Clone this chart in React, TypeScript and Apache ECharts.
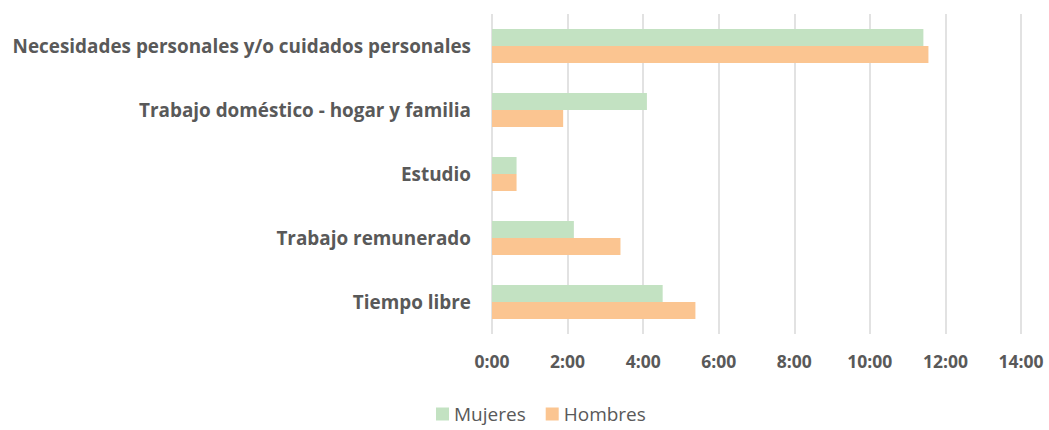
import React, { useEffect, useRef } from "react";
import * as echarts from "echarts";

const categories = [
  "Necesidades personales y/o cuidados personales",
  "Trabajo doméstico - hogar y familia",
  "Estudio",
  "Trabajo remunerado",
  "Tiempo libre",
];
// minutes per day
const mujeres = [685, 246, 39, 130, 271];
const hombres = [693, 113, 39, 204, 323];
const seriesNames = ["Mujeres", "Hombres"];

const fmt = (v: number) => `${Math.floor(v / 60)}:${String(v % 60).padStart(2, "0")}`;

export default function App() {
  const ref = useRef<HTMLDivElement>(null);
  useEffect(() => {
    if (!ref.current) return;
    const chart = echarts.init(ref.current, undefined, { renderer: "svg" });
    const font = "'Open Sans', Lato, sans-serif";
    chart.setOption({
      animation: false,
      textStyle: { fontFamily: font },
      grid: { left: 492, right: 28, top: 14, bottom: 96, containLabel: false },
      legend: {
        data: seriesNames,
        left: 436,
        top: 404,
        padding: 0,
        icon: "rect",
        itemWidth: 13,
        itemHeight: 13,
        itemGap: 20,
        textStyle: { color: "#595959", fontSize: 19, lineHeight: 20, fontFamily: font },
      },
      xAxis: {
        type: "value",
        min: 0,
        max: 840,
        interval: 120,
        axisLabel: {
          formatter: (v: number) => fmt(v),
          color: "#595959",
          fontSize: 17.5,
          fontWeight: "bold",
          margin: 18,
          fontFamily: font,
        },
        axisLine: { show: false },
        axisTick: { show: false },
        splitLine: { lineStyle: { color: "#d9d9d9", width: 1.5 } },
      },
      yAxis: {
        type: "category",
        data: categories,
        inverse: true,
        axisLine: { show: false },
        axisTick: { show: false },
        axisLabel: {
          color: "#595959",
          fontSize: 18.9,
          fontWeight: "bold",
          margin: 21,
          fontFamily: font,
        },
      },
      series: [
        {
          name: seriesNames[0],
          type: "bar",
          data: mujeres,
          barGap: "0%",
          barCategoryGap: "47%",
          itemStyle: { color: "#c3e2c2" },
        },
        {
          name: seriesNames[1],
          type: "bar",
          data: hombres,
          barGap: "0%",
          barCategoryGap: "47%",
          itemStyle: { color: "#fbc591" },
        },
      ],
    });
    return () => chart.dispose();
  }, []);
  return (
    <div
      ref={ref}
      style={{ position: "fixed", left: 0, top: 0, width: 1049, height: 430, background: "#fff" }}
    />
  );
}
